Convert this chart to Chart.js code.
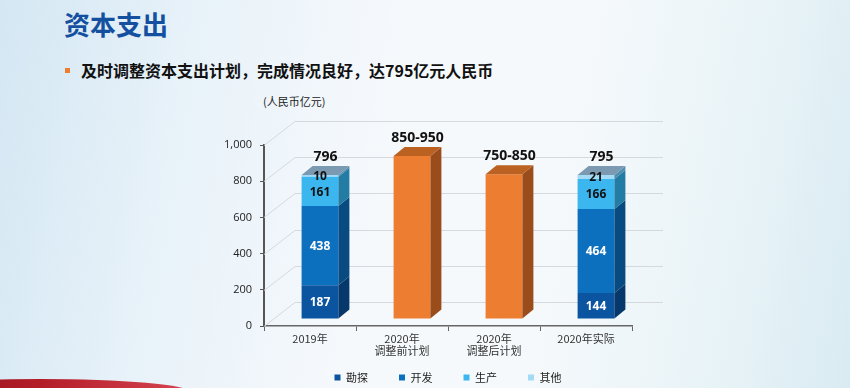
<!DOCTYPE html>
<html>
<head>
<meta charset="utf-8">
<script src="https://cdn.jsdelivr.net/npm/chart.js@4"></script>
<style>
  html, body { margin:0; padding:0; }
  body {
    width:850px; height:388px; overflow:hidden; position:relative;
    background: linear-gradient(100deg, #d4e7f3 0%, #e8f2f9 22%, #f6f9fc 45%, #f5f9fb 65%, #e8f3f7 85%, #d9ebf2 100%);
    font-family: "Noto Sans CJK SC", "Noto Sans", sans-serif;
  }
  #title { position:absolute; left:64px; top:11px; font-size:26px; line-height:26px; font-weight:700; color:#1450a0; }
  #bullet { position:absolute; left:65px; top:68px; width:5px; height:5px; background:#ed7d31; }
  #sub { position:absolute; left:81px; top:61px; font-size:16px; line-height:18px; font-weight:700; color:#111; }
  #unit { position:absolute; left:263px; top:94px; font-size:11px; line-height:14px; color:#222; }
  #wrap { position:absolute; left:200px; top:90px; width:492px; height:324px; }
  #swoosh { position:absolute; left:-110px; top:379px; width:300px; height:26px; border-radius:50%;
    background: linear-gradient(90deg, #8c0f18 0%, #b31d28 50%, #d64552 100%); }
</style>
</head>
<body>
<div id="title">资本支出</div>
<div id="bullet"></div>
<div id="sub">及时调整资本支出计划，完成情况良好，达795亿元人民币</div>
<div id="unit">(人民币亿元)</div>
<div id="wrap"><canvas id="c"></canvas></div>
<div id="swoosh"></div>
<script>
// ---- data ----
const categories = [['2019年'], ['2020年', '调整前计划'], ['2020年', '调整后计划'], ['2020年实际']];
const seriesNames = ['勘探', '开发', '生产', '其他'];
const exploration = [187, null, null, 144];
const development = [438, null, null, 464];
const production  = [161, null, null, 166];
const other       = [10, null, null, 21];
const plan        = [null, 900, 800, null];
const totalLabels = ['796', '850-950', '750-850', '795'];
const yMin = 0, yMax = 1000, yStep = 200;

// ---- styles ----
const front = ['#0b54a0', '#0d70bf', '#3cb6ee', '#a3daf5', '#ed7d31'];
const side  = ['#06386b', '#084b80', '#237ca4', '#4f8fae', '#9b4c1b'];
const topFace = { blue: '#7b9ab2', orange: '#bb6122' };
const labelColor = ['#ffffff', '#ffffff', '#111111', '#111111'];
const DEPTH_X = 11, DEPTH_Y = 9;    // bar depth
const WALL_X = 31, WALL_Y = 24;     // back wall offset
const SHIFT_X = 10, SHIFT_Y = 7;    // bars sit mid-floor
const LEGEND_DX = 32, LEGEND_DY = -21;
const numFont = '"Open Sans", "Noto Sans CJK SC", sans-serif';

const threeD = {
  id: 'threeD',
  afterLayout(chart) {
    const lg = chart.legend;
    if (lg) {
      lg.left += LEGEND_DX; lg.right += LEGEND_DX;
      lg.top += LEGEND_DY; lg.bottom += LEGEND_DY;
    }
  },
  beforeDatasetsDraw(chart) {
    const { ctx, chartArea: a, scales: { y } } = chart;
    ctx.save();
    ctx.strokeStyle = '#d5d9dd';
    ctx.lineWidth = 1;
    y.ticks.forEach(t => {
      const py = Math.round(y.getPixelForValue(t.value)) + 0.5;
      ctx.beginPath();
      ctx.moveTo(a.left, py);
      ctx.lineTo(a.left + WALL_X, py - WALL_Y);
      ctx.lineTo(a.right + WALL_X, py - WALL_Y);
      ctx.stroke();
    });
    ctx.restore();
    ctx.save();
    ctx.translate(SHIFT_X, -SHIFT_Y);
  },
  afterDatasetsDraw(chart) {
    const { ctx } = chart;
    const n = chart.data.labels.length;
    const dsCount = chart.data.datasets.length;
    for (let i = 0; i < n; i++) {
      let topEl = null, topDs = -1;
      for (let d = 0; d < dsCount; d++) {
        const v = chart.data.datasets[d].data[i];
        if (v === null || v === undefined) continue;
        const el = chart.getDatasetMeta(d).data[i];
        const { x, y, base, width } = el.getProps(['x', 'y', 'base', 'width'], true);
        const r = x + width / 2;
        ctx.fillStyle = side[d];
        ctx.beginPath();
        ctx.moveTo(r, y);
        ctx.lineTo(r + DEPTH_X, y - DEPTH_Y);
        ctx.lineTo(r + DEPTH_X, base - DEPTH_Y);
        ctx.lineTo(r, base);
        ctx.closePath();
        ctx.fill();
        if (!topEl || y < topEl.y) { topEl = { x, y, base, width }; topDs = d; }
      }
      if (!topEl) continue;
      const l = topEl.x - topEl.width / 2, r = topEl.x + topEl.width / 2;
      ctx.fillStyle = topDs === 4 ? topFace.orange : topFace.blue;
      ctx.beginPath();
      ctx.moveTo(l, topEl.y);
      ctx.lineTo(l + DEPTH_X, topEl.y - DEPTH_Y);
      ctx.lineTo(r + DEPTH_X, topEl.y - DEPTH_Y);
      ctx.lineTo(r, topEl.y);
      ctx.closePath();
      ctx.fill();
      ctx.fillStyle = '#111';
      ctx.font = 'bold 14px ' + numFont;
      ctx.textAlign = 'center';
      ctx.textBaseline = 'middle';
      ctx.fillText(totalLabels[i], topEl.x + DEPTH_X / 2, topEl.y - DEPTH_Y - 9);
    }
    ctx.font = 'bold 12px ' + numFont;
    ctx.textAlign = 'center';
    ctx.textBaseline = 'middle';
    for (let d = 0; d < 4; d++) {
      const meta = chart.getDatasetMeta(d);
      chart.data.datasets[d].data.forEach((v, i) => {
        if (v === null) return;
        const { x, y, base } = meta.data[i].getProps(['x', 'y', 'base'], true);
        ctx.fillStyle = labelColor[d];
        ctx.fillText(String(v), x, (y + base) / 2 + 1);
      });
    }
    ctx.restore();
  }
};

const mk = (label, data, idx) => ({
  label, data, backgroundColor: front[idx], borderWidth: 0,
  barPercentage: 0.4, categoryPercentage: 1, clip: false
});

new Chart(document.getElementById('c'), {
  type: 'bar',
  data: {
    labels: categories,
    datasets: [
      mk(seriesNames[0], exploration, 0),
      mk(seriesNames[1], development, 1),
      mk(seriesNames[2], production, 2),
      mk(seriesNames[3], other, 3),
      mk('计划', plan, 4)
    ]
  },
  options: {
    responsive: true,
    maintainAspectRatio: false,
    animation: false,
    layout: { padding: { top: 55, right: 60, left: 0, bottom: 0 } },
    plugins: {
      tooltip: { enabled: false },
      legend: {
        position: 'bottom',
        labels: {
          boxWidth: 6, boxHeight: 6, padding: 31, color: '#222',
          font: { size: 11, family: '"Noto Sans CJK SC", sans-serif' },
          filter: item => item.datasetIndex < 4
        }
      }
    },
    scales: {
      x: {
        stacked: true,
        afterFit: s => { s.height = 36; },
        grid: { display: true, drawOnChartArea: false, drawTicks: true, tickLength: 5, color: '#666', offset: true },
        border: { display: true, color: '#666', width: 1.5 },
        ticks: { color: '#333', padding: 1, font: { size: 11, lineHeight: 1.15, family: '"Noto Sans CJK SC", sans-serif' }, maxRotation: 0, autoSkip: false }
      },
      y: {
        stacked: true,
        min: yMin, max: yMax,
        afterFit: s => { s.width = 64; },
        grid: { display: true, drawOnChartArea: false, drawTicks: true, tickLength: 4, color: '#555' },
        border: { display: true, color: '#555', width: 2 },
        ticks: {
          stepSize: yStep, color: '#222', padding: 8,
          font: { size: 11, family: numFont },
          callback: v => v.toLocaleString('en-US')
        }
      }
    }
  },
  plugins: [threeD]
});
</script>
</body>
</html>
